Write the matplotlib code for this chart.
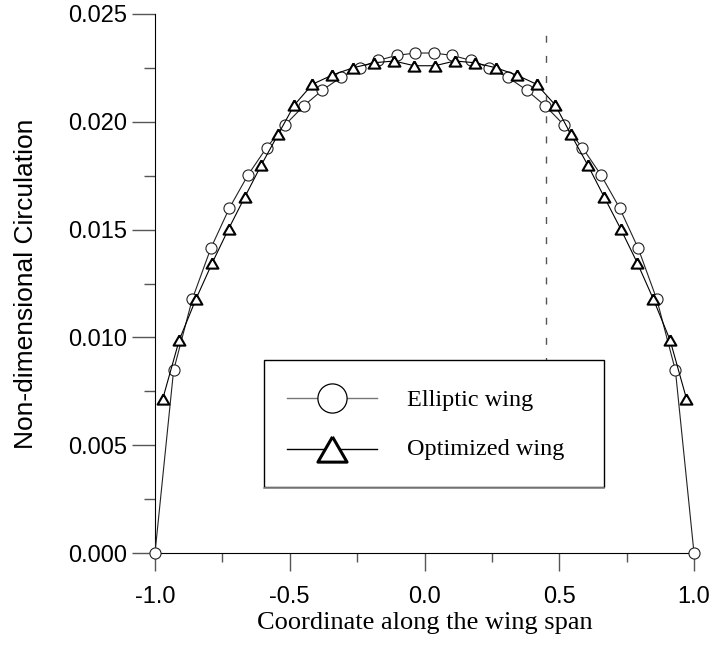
import matplotlib
matplotlib.use('Agg')
import matplotlib.pyplot as plt
from matplotlib.lines import Line2D
from matplotlib.patches import Rectangle
from matplotlib.ticker import MultipleLocator, FormatStrFormatter

# spanwise stations and circulation, elliptic loading
span_ell = [-1.000, -0.931, -0.862, -0.793, -0.724, -0.655, -0.586, -0.517, -0.448, -0.379,
            -0.310, -0.241, -0.172, -0.103, -0.034, 0.034, 0.103, 0.172, 0.241, 0.310,
            0.379, 0.448, 0.517, 0.586, 0.655, 0.724, 0.793, 0.862, 0.931, 1.000]
gam_ell = [0.0, 0.00847, 0.01176, 0.01413, 0.01600, 0.01753, 0.01880, 0.01986, 0.02074, 0.02147,
           0.02206, 0.02251, 0.02285, 0.02308, 0.02319, 0.02319, 0.02308, 0.02285, 0.02251, 0.02206,
           0.02147, 0.02074, 0.01986, 0.01880, 0.01753, 0.01600, 0.01413, 0.01176, 0.00847, 0.0]

# optimized wing
span_opt = [-0.971, -0.910, -0.848, -0.787, -0.727, -0.666, -0.605, -0.543, -0.483, -0.416,
            -0.342, -0.264, -0.186, -0.113, -0.038, 0.038, 0.113, 0.186, 0.264, 0.342,
            0.416, 0.485, 0.543, 0.605, 0.666, 0.728, 0.789, 0.849, 0.911, 0.972]
gam_opt = [0.00716, 0.00988, 0.01178, 0.01347, 0.01503, 0.01653, 0.01801, 0.01942, 0.02078, 0.02174,
           0.02217, 0.02251, 0.02274, 0.02282, 0.02260, 0.02260, 0.02282, 0.02274, 0.02251, 0.02217,
           0.02174, 0.02078, 0.01942, 0.01801, 0.01653, 0.01503, 0.01347, 0.01178, 0.00988, 0.00716]

cut_x = 0.452
cut_y = [0.005, 0.0243]

labels = ['Elliptic wing', 'Optimized wing']

plt.rcParams['font.family'] = ['Liberation Sans', 'DejaVu Sans']
plt.rcParams['axes.unicode_minus'] = False
plt.rcParams['lines.scale_dashes'] = False

# equilateral triangle marker
tri = [(0, 0.866), (-1, -0.866), (1, -0.866), (0, 0.866)]

fig = plt.figure(figsize=(7.12, 6.45), dpi=100)
ax = fig.add_axes([155/712, 92/645, 539/712, 539/645])

ax.plot(span_ell, gam_ell, color='#222222', lw=0.8, marker='o', ms=8, mfc='white',
        mec='#222222', mew=0.8, clip_on=False, zorder=3)
ax.plot(span_opt, gam_opt, color='black', lw=0.8, marker=tri, ms=8.5, mfc='white',
        mec='black', mew=1.5, clip_on=False, zorder=4)
ax.plot([cut_x, cut_x], cut_y, color='#555555', lw=1.0, dashes=(5, 9.5), zorder=2)

ax.set_xlim(-1, 1)
ax.set_ylim(0, 0.025)
ax.spines['top'].set_visible(False)
ax.spines['right'].set_visible(False)
ax.xaxis.set_major_locator(MultipleLocator(0.5))
ax.xaxis.set_minor_locator(MultipleLocator(0.25))
ax.yaxis.set_major_locator(MultipleLocator(0.005))
ax.yaxis.set_minor_locator(MultipleLocator(0.0025))
ax.xaxis.set_major_formatter(FormatStrFormatter('%.1f'))
ax.yaxis.set_major_formatter(FormatStrFormatter('%.3f'))
ax.tick_params(which='both', direction='out', width=1, color='#555555', labelsize=17)
ax.tick_params(axis='x', which='major', length=13, pad=11)
ax.tick_params(axis='x', which='minor', length=6.5)
ax.tick_params(axis='y', which='major', length=16.5, pad=3.6)
ax.tick_params(axis='y', which='minor', length=8)

ax.set_ylabel('Non-dimensional Circulation', fontsize=19)
ax.yaxis.set_label_coords(-0.217, 0.5)
ax.set_xlabel('Coordinate along the wing span', fontsize=19, family='Liberation Serif',
              va='top')
ax.xaxis.set_label_coords(0.5, -0.1095)

# legend box, with a faint gray lower edge
ax.add_patch(Rectangle((0.202, 0.122), 0.631, 0.236, transform=ax.transAxes,
                       fc='white', ec='black', lw=1.0, zorder=6))
ax.add_line(Line2D([0.203, 0.833], [0.1205, 0.1205], transform=ax.transAxes, color='#888888',
                   lw=1.2, zorder=6))
ax.add_line(Line2D([0.245, 0.412], [0.288, 0.288], transform=ax.transAxes, color='#777777',
                   lw=1.0, zorder=7))
ax.add_line(Line2D([0.3285], [0.288], transform=ax.transAxes, marker='o', ms=21, mfc='white',
                   mec='black', mew=0.9, zorder=8))
ax.add_line(Line2D([0.245, 0.412], [0.1929, 0.1929], transform=ax.transAxes, color='black',
                   lw=1.0, zorder=7))
ax.add_line(Line2D([0.3285], [0.1929], transform=ax.transAxes, marker=tri, ms=21, mfc='white',
                   mec='black', mew=2.2, zorder=8))
ax.text(0.4675, 0.2733, labels[0], transform=ax.transAxes, fontsize=17.5,
        family='Liberation Serif', va='baseline', ha='left', zorder=9)
ax.text(0.4675, 0.1818, labels[1], transform=ax.transAxes, fontsize=17.5,
        family='Liberation Serif', va='baseline', ha='left', zorder=9)

fig.savefig('out.png', dpi=100)
